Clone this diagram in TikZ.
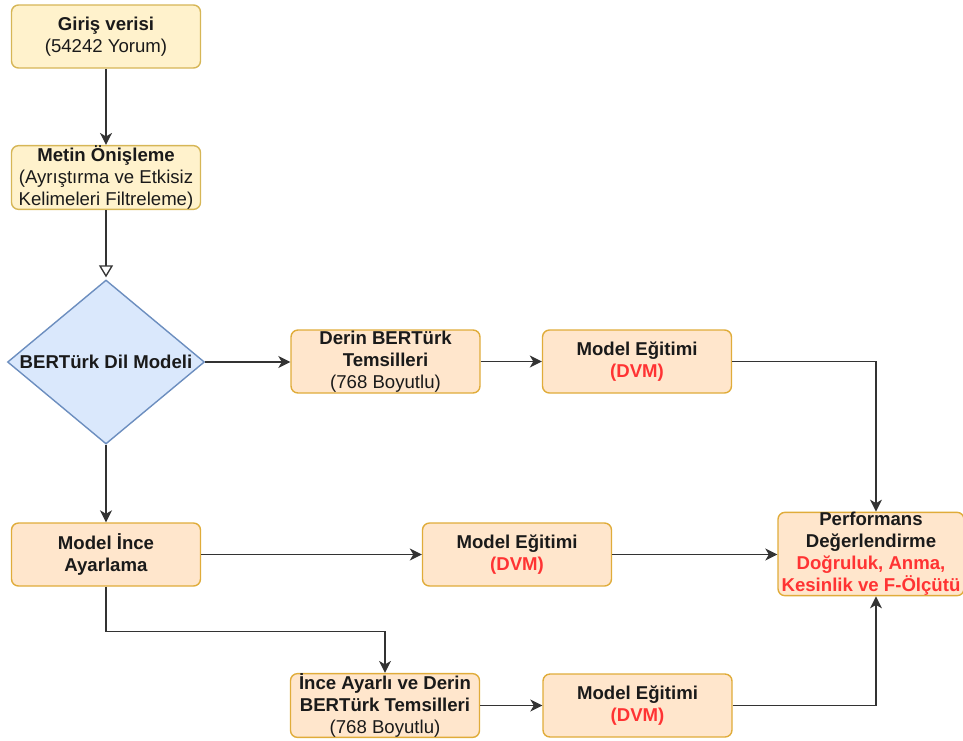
\documentclass[tikz,border=0pt]{standalone}
\usepackage{fontspec}
\setmainfont{Liberation Sans}
\usetikzlibrary{shapes.geometric,arrows.meta}
\definecolor{yfill}{HTML}{FFF2CC}
\definecolor{ydraw}{HTML}{D6B656}
\definecolor{ofill}{HTML}{FFE6CC}
\definecolor{odraw}{HTML}{E0AC3A}
\definecolor{bfill}{HTML}{DAE8FC}
\definecolor{bdraw}{HTML}{6C8EBF}
\definecolor{redtxt}{HTML}{FF3333}
\definecolor{txt}{HTML}{1A1A1A}
\definecolor{lne}{HTML}{333333}
\begin{document}
\begin{tikzpicture}[x=1pt,y=-1pt,
  every node/.style={font=\fontsize{18.6}{22}\selectfont, text=txt, align=center, inner sep=0pt},
  ybox/.style={rectangle, rounded corners=7pt, draw=ydraw, fill=yfill, line width=1.4pt, minimum width=189pt, minimum height=63pt},
  obox/.style={rectangle, rounded corners=7pt, draw=odraw, fill=ofill, line width=1.4pt, minimum width=189pt, minimum height=63pt},
  dbox/.style={diamond, draw=bdraw, fill=bfill, line width=1.4pt, minimum width=197pt, minimum height=164pt},
  conn/.style={draw=lne, line width=1.3pt, -{Stealth[length=12pt,width=12pt,inset=3.5pt]}},
  openconn/.style={draw=lne, line width=1.3pt, -{Triangle[open,length=12pt,width=14pt]}, shorten >=2pt},
]
\useasboundingbox (0,0) rectangle (963,740);

\node[ybox] (gv) at (106,36.5) {\textbf{Giriş verisi}\\(54242 Yorum)};
\node[ybox] (mo) at (106,177.5) {\textbf{Metin Önişleme}\\(Ayrıştırma ve Etkisiz\\Kelimeleri Filtreleme)};
\node[dbox] (dm) at (106,362) {};
\node (dmt) at (dm.center) {\textbf{BERTürk Dil Modeli}};
\node[obox] (db) at (385.5,361.5) {\textbf{Derin BERTürk}\\\textbf{Temsilleri}\\(768 Boyutlu)};
\node[obox] (me1) at (637,361.5) {\textbf{Model Eğitimi}\\\textcolor{redtxt}{\textbf{(DVM)}}};
\node[obox] (mi) at (106,554.5) {\textbf{Model İnce}\\\textbf{Ayarlama}};
\node[obox] (me2) at (517,554.5) {\textbf{Model Eğitimi}\\\textcolor{redtxt}{\textbf{(DVM)}}};
\node[obox] (ia) at (385,705.5) {\textbf{İnce Ayarlı ve Derin}\\\textbf{BERTürk Temsilleri}\\(768 Boyutlu)};
\node[obox] (me3) at (637.5,705.5) {\textbf{Model Eğitimi}\\\textcolor{redtxt}{\textbf{(DVM)}}};
\node[obox, minimum width=186pt, minimum height=82pt] (pf) at (871,554) {\textbf{Performans}\\\textbf{Değerlendirme}\\\textcolor{redtxt}{\textbf{Doğruluk, Anma,}}\\\textcolor{redtxt}{\textbf{Kesinlik ve F-Ölçütü}}};

\draw[conn] (gv) -- (mo);
\draw[openconn] (mo) -- (dm);
\draw[conn] (dm.east) -- (dm.east -| db.west);
\draw[conn] (db) -- (me1);
\draw[conn] (me1.east) -| ([xshift=5pt]pf.north);
\draw[conn] (dm) -- (mi);
\draw[conn] (mi) -- (me2);
\draw[conn] (me2) -- (me2 -| pf.west);
\draw[conn] (mi.south) -- ++(0,45) -| (ia.north);
\draw[conn] (ia) -- (me3);
\draw[conn] (me3.east) -| ([xshift=5pt]pf.south);
\end{tikzpicture}
\end{document}
